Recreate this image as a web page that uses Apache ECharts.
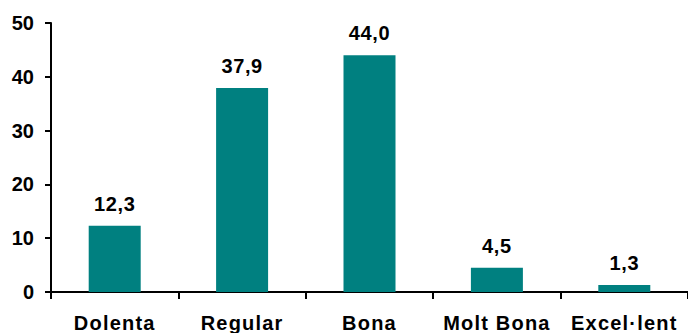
<!DOCTYPE html>
<html>
<head>
<meta charset="utf-8">
<script src="https://cdn.jsdelivr.net/npm/echarts@6/dist/echarts.min.js"></script>
<style>
  html, body { margin: 0; padding: 0; background: #fff; }
  #chart { width: 688px; height: 333px; }
</style>
</head>
<body>
<div id="chart"></div>
<script>
// Rating categories and their percentages
const categories = ['Dolenta', 'Regular', 'Bona', 'Molt Bona', 'Excel·lent'];
const values = [12.3, 37.9, 44.0, 4.5, 1.3];
const yTicks = { min: 0, max: 50, interval: 10 };

const font = '"Liberation Sans", Arial, sans-serif';
const chart = echarts.init(document.getElementById('chart'), null, { renderer: 'svg' });

chart.setOption({
  animation: false,
  backgroundColor: '#ffffff',
  grid: { left: 51, top: 23, width: 644, height: 269, containLabel: false },
  xAxis: {
    type: 'category',
    data: categories,
    boundaryGap: true,
    axisLine: { lineStyle: { color: '#000', width: 2 } },
    axisTick: { show: true, length: 7, lineStyle: { color: '#000', width: 2 } },
    axisLabel: {
      interval: 0,
      margin: 21,
      color: '#000',
      fontFamily: font,
      fontWeight: 'bold',
      fontSize: 20
    },
    splitLine: { show: false }
  },
  yAxis: {
    type: 'value',
    min: yTicks.min,
    max: yTicks.max,
    interval: yTicks.interval,
    axisLine: { show: true, lineStyle: { color: '#000', width: 2 } },
    axisTick: { show: true, length: 6, lineStyle: { color: '#000', width: 2 } },
    axisLabel: {
      margin: 17,
      color: '#000',
      fontFamily: font,
      fontWeight: 'bold',
      fontSize: 20
    },
    splitLine: { show: false }
  },
  series: [{
    type: 'bar',
    data: values,
    barWidth: 52,
    itemStyle: { color: '#008080' },
    label: {
      show: true,
      position: 'top',
      distance: 12,
      color: '#000',
      fontFamily: font,
      fontWeight: 'bold',
      fontSize: 20,
      formatter: p => p.value.toFixed(1).replace('.', ',')
    }
  }]
});

// Slightly looser tracking on the category names
document.querySelectorAll('#chart text').forEach(t => {
  if (categories.includes(t.textContent)) {
    t.style.letterSpacing = '1.2px';
  } else if (/,/.test(t.textContent)) {
    t.style.letterSpacing = '0.6px';
  }
});
</script>
</body>
</html>
